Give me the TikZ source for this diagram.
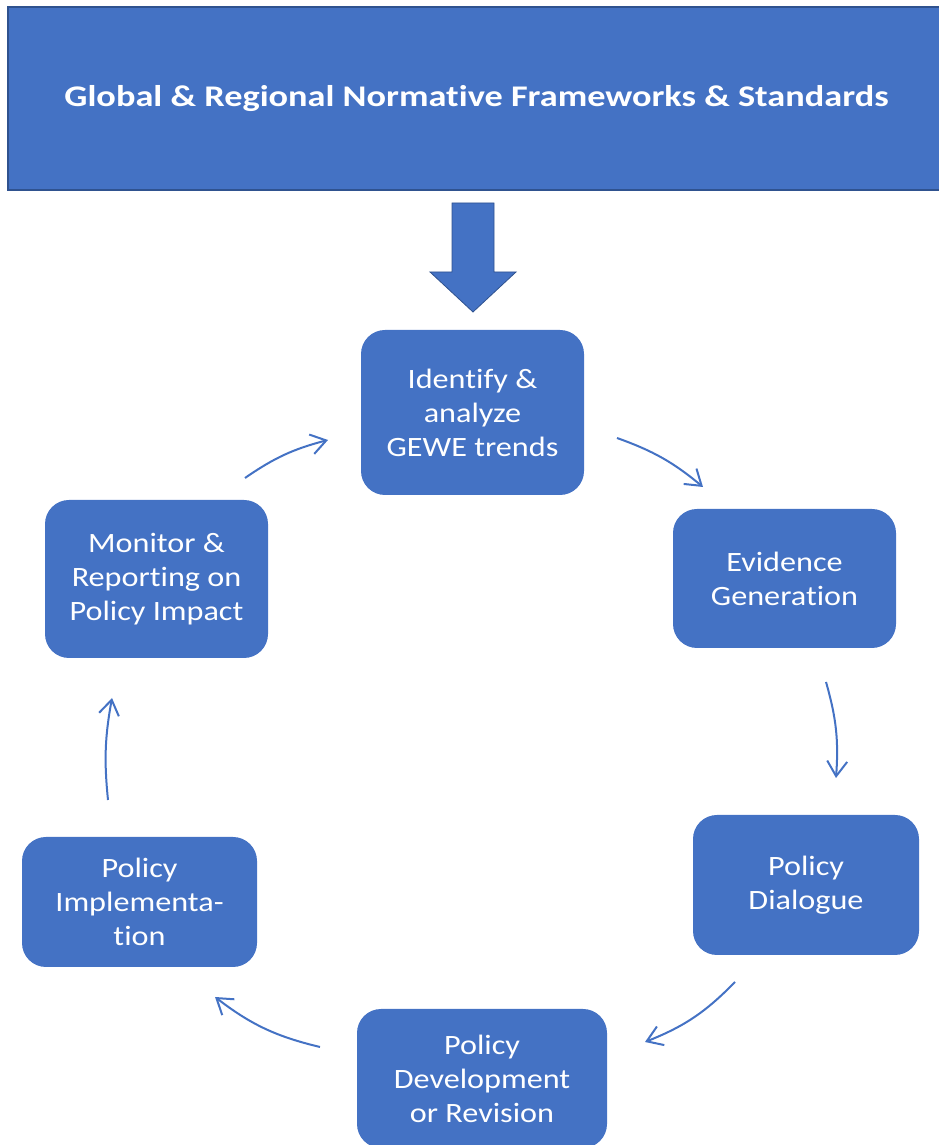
\documentclass[tikz,border=0pt]{standalone}
\usepackage{fontspec}
\setmainfont{Carlito}[FakeStretch=1.15,Ligatures=CommonOff]
\newfontfamily\titlefont{Carlito}[FakeStretch=1.21,Ligatures=CommonOff]
\usepackage{tikz}
\usetikzlibrary{arrows.meta}
\definecolor{officeblue}{HTML}{4472C4}
\definecolor{officeline}{HTML}{2F528F}

\begin{document}
\begin{tikzpicture}[x=1pt,y=1pt,
  cycle node/.style={rectangle,rounded corners=24pt,fill=officeblue,text=white,
    align=center,font=\fontsize{28}{34}\selectfont,inner sep=0pt},
  cycle arrow/.style={-{Straight Barb[length=15pt,width=20pt,line width=2pt]},
    draw=officeblue,line width=2pt}]

  \useasboundingbox (0,0) rectangle (939,1145);

  % header box and the big arrow under it
  \node[rectangle,fill=officeblue,draw=officeline,line width=1.2pt,
    minimum width=937pt,minimum height=183pt,text=white,
    font=\titlefont\bfseries\fontsize{30}{35}\selectfont] (frame) at (476.5,1046.5)
    {Global \& Regional Normative Frameworks \& Standards};
  \draw[fill=officeblue,draw=officeline,line width=0.8pt]
    (452,942) -- (494,942) -- (494,873) -- (516,873) -- (473,833)
    -- (430,873) -- (452,873) -- cycle;

  % the six steps
  \node[cycle node,minimum width=223pt,minimum height=165pt] (identify) at (472.5,732.5)
    {Identify \&\\analyze\\GEWE trends};
  \node[cycle node,minimum width=223pt,minimum height=139pt] (evidence) at (784.5,566.5)
    {Evidence\\Generation};
  \node[cycle node,minimum width=226pt,minimum height=140pt] (dialogue) at (806,260)
    {Policy\\Dialogue};
  \node[cycle node,minimum width=250pt,minimum height=139pt] (develop) at (482,66.5)
    {Policy\\Development\\or Revision};
  \node[cycle node,minimum width=235pt,minimum height=130pt] (implement) at (139.5,243)
    {Policy\\Implementa-\\tion};
  \node[cycle node,minimum width=223pt,minimum height=158pt] (monitor) at (156.5,566)
    {Monitor \&\\Reporting on\\Policy Impact};

  % arrow ends
  \coordinate (a1) at (617,707); \coordinate (b1) at (703,658);
  \coordinate (a2) at (826,463); \coordinate (b2) at (836,367);
  \coordinate (a3) at (735,163); \coordinate (b3) at (645,103);
  \coordinate (a4) at (320,98);  \coordinate (b4) at (215,148);
  \coordinate (a5) at (108,345); \coordinate (b5) at (112,447);
  \coordinate (a6) at (245,667); \coordinate (b6) at (328,705);

  \path[every edge/.append style={cycle arrow}]
    (a1) edge [bend left=10] (b1)
    (a2) edge [bend left=10] (b2)
    (a3) edge [bend left=12] (b3)
    (a4) edge [bend left=12] (b4)
    (a5) edge [bend left=8] (b5)
    (a6) edge [bend left=10] (b6);
\end{tikzpicture}
\end{document}
